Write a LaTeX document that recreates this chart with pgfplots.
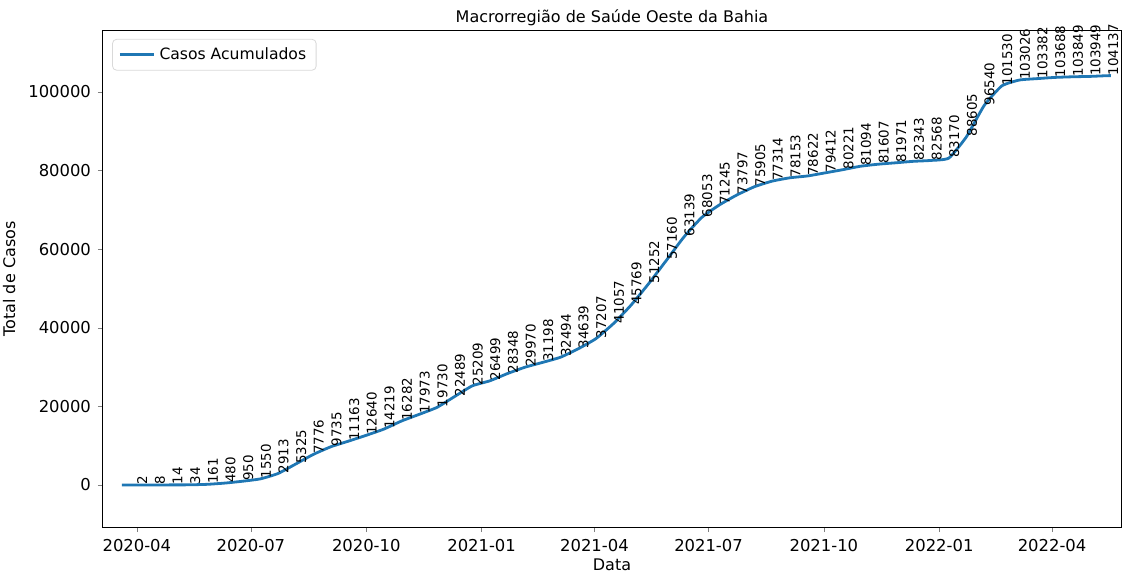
\documentclass[border=0pt]{standalone}
\usepackage{pgfplots}
\pgfplotsset{compat=1.18}
\usepackage{fontspec}
\setmainfont{DejaVu Sans}
\definecolor{mplblue}{HTML}{1F77B4}

% x = days since 2020-04-01
\pgfplotstableread{
x y
-12 0
0 2
14.08 8
28.16 14
42.24 34
56.32 161
70.4 480
84.48 950
98.56 1550
112.64 2913
126.72 5325
140.8 7776
154.88 9735
168.96 11163
183.04 12640
197.12 14219
211.2 16282
225.28 17973
239.36 19730
253.44 22489
267.52 25209
281.6 26499
295.68 28348
309.76 29970
323.84 31198
337.92 32494
352 34639
366.08 37207
380.16 41057
394.24 45769
408.32 51252
422.4 57160
436.48 63139
450.56 68053
464.64 71245
478.72 73797
492.8 75905
506.88 77314
520.96 78153
535.04 78622
549.12 79412
563.2 80221
577.28 81094
591.36 81607
605.44 81971
619.52 82343
633.6 82568
647.68 83170
661.76 88605
675.84 96540
689.92 101530
704 103026
718.08 103382
732.16 103688
746.24 103849
760.32 103949
774.4 104137
777 104137
}\casos

\pgfplotstableread{
x y
0 2
14.08 8
28.16 14
42.24 34
56.32 161
70.4 480
84.48 950
98.56 1550
112.64 2913
126.72 5325
140.8 7776
154.88 9735
168.96 11163
183.04 12640
197.12 14219
211.2 16282
225.28 17973
239.36 19730
253.44 22489
267.52 25209
281.6 26499
295.68 28348
309.76 29970
323.84 31198
337.92 32494
352 34639
366.08 37207
380.16 41057
394.24 45769
408.32 51252
422.4 57160
436.48 63139
450.56 68053
464.64 71245
478.72 73797
492.8 75905
506.88 77314
520.96 78153
535.04 78622
549.12 79412
563.2 80221
577.28 81094
591.36 81607
605.44 81971
619.52 82343
633.6 82568
647.68 83170
661.76 88605
675.84 96540
689.92 101530
704 103026
718.08 103382
732.16 103688
746.24 103849
760.32 103949
774.4 104137
}\rotulos

\begin{document}
\begin{tikzpicture}
\begin{axis}[
    scale only axis,
    width=509pt, height=248pt,
    xmin=-27, xmax=785,
    ymin=-10700, ymax=115500,
    clip=false,
    axis line style={line width=0.5pt},
    tick align=outside, tick pos=left,
    major tick length=2.5pt,
    xtick={0,91,183,275,365,456,548,640,730},
    xticklabels={2020-04,2020-07,2020-10,2021-01,2021-04,2021-07,2021-10,2022-01,2022-04},
    ytick={0,20000,40000,60000,80000,100000},
    scaled y ticks=false,
    yticklabel style={/pgf/number format/.cd, fixed, 1000 sep={}, assume math mode=true},
    tick label style={font=\fontsize{8.2}{9}\selectfont},
    title={Macrorregião de Saúde Oeste da Bahia},
    title style={font=\fontsize{8}{9}\selectfont, yshift=-7pt},
    xlabel={Data},
    ylabel={Total de Casos},
    label style={font=\fontsize{8}{9}\selectfont},
    xlabel style={at={(ticklabel cs:0.5)}, anchor=near ticklabel, inner sep=0.3pt},
    ylabel style={at={(ticklabel cs:0.5)}, anchor=near ticklabel, inner sep=3pt},
    legend style={at={(0.009,0.984)}, anchor=north west, draw=black!15,
        rounded corners=2pt, font=\fontsize{7.8}{9}\selectfont,
        inner xsep=3pt, inner ysep=2pt},
    legend cell align=left,
]
\addplot[color=mplblue, line width=1.4pt, smooth, tension=0.3] table[x=x, y=y] {\casos};
\addlegendentry{Casos Acumulados}
\addplot[draw=none, forget plot,
    nodes near coords, point meta=explicit symbolic,
    nodes near coords align={anchor=north west},
    every node near coord/.append style={rotate=90, anchor=north west, inner sep=0pt,
        font=\fontsize{6.7}{7}\selectfont, text=black}]
    table[x=x, y=y, meta=y] {\rotulos};
\end{axis}
\path (current axis.south west) ++(-51.5pt,-23.5pt) coordinate (bl);
\path (current axis.north east) ++(2pt,15.5pt) coordinate (tr);
\pgfresetboundingbox
\useasboundingbox (bl) rectangle (tr);
\end{tikzpicture}
\end{document}
